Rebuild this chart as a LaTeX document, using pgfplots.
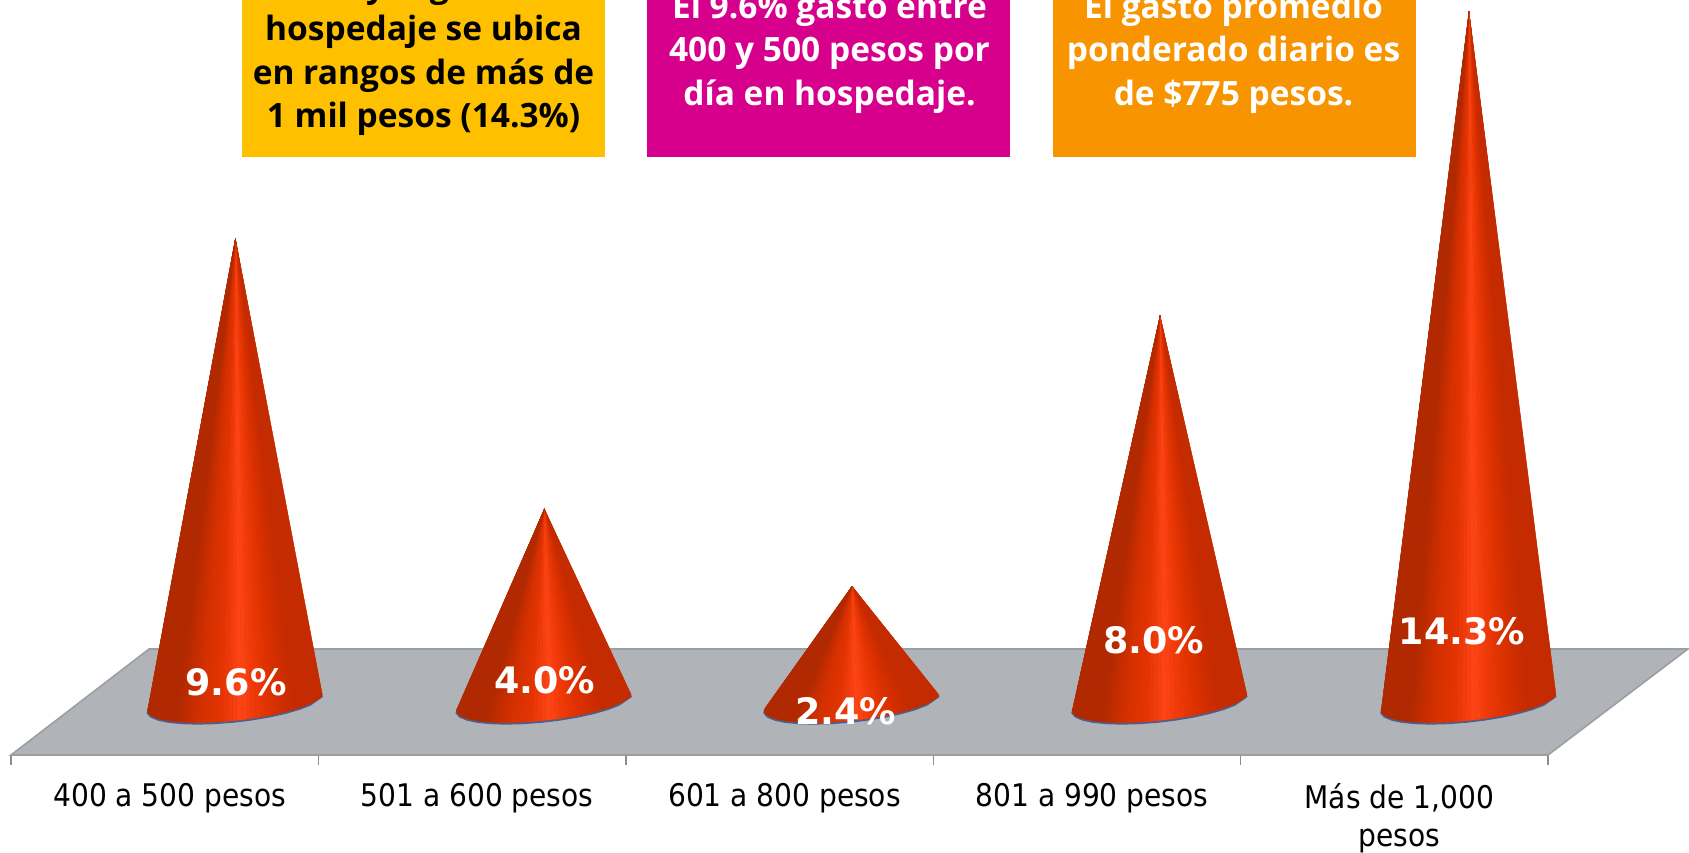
\documentclass[border=0pt]{standalone}
\usepackage{pgfplots}
\usepackage{pgfplotstable}
\usepackage{fontspec}
\usepgfplotslibrary{patchplots}
\pgfplotsset{compat=1.18}
\setmainfont{DejaVu Sans}
\newfontfamily\tickfont{DejaVu Sans Condensed}
\newfontfamily\boxfont{Open Sans}
\definecolor{floorc}{HTML}{B0B3B7}
\definecolor{flooredge}{HTML}{9C9EA2}
\definecolor{axisc}{HTML}{8A8C90}
\definecolor{rimc}{HTML}{4E5E8C}
\definecolor{boxy}{HTML}{FFC000}
\definecolor{boxm}{HTML}{D6008C}
\definecolor{boxo}{HTML}{F79400}
\definecolor{conemid}{HTML}{D63000}
% outline of one cone around its centre: row 0 is the apex (a=1), c is the place across its width
\pgfplotstableread{
dx dy a c
0.0000 0.0000 1 0.50
0.2830 0.1452 0 1.000
0.2774 0.1010 0 0.990
0.2687 0.0560 0 0.975
0.2571 0.0104 0 0.954
0.2426 -0.0351 0 0.929
0.2256 -0.0803 0 0.899
0.2060 -0.1245 0 0.864
0.1842 -0.1670 0 0.825
0.1723 -0.1874 0 0.804
0.1603 -0.2077 0 0.783
0.1476 -0.2269 0 0.760
0.1348 -0.2461 0 0.738
0.1213 -0.2638 0 0.714
0.1077 -0.2815 0 0.690
0.0936 -0.2977 0 0.665
0.0794 -0.3139 0 0.640
0.0649 -0.3282 0 0.615
0.0503 -0.3425 0 0.589
0.0355 -0.3550 0 0.562
0.0207 -0.3674 0 0.536
0.0058 -0.3778 0 0.510
-0.0092 -0.3882 0 0.484
-0.0241 -0.3964 0 0.457
-0.0390 -0.4046 0 0.431
-0.0537 -0.4105 0 0.405
-0.0684 -0.4164 0 0.379
-0.0827 -0.4199 0 0.354
-0.0970 -0.4234 0 0.329
-0.1108 -0.4247 0 0.305
-0.1246 -0.4259 0 0.280
-0.1377 -0.4247 0 0.257
-0.1507 -0.4234 0 0.234
-0.1630 -0.4199 0 0.212
-0.1753 -0.4164 0 0.190
-0.1867 -0.4105 0 0.170
-0.1980 -0.4046 0 0.150
-0.2082 -0.3964 0 0.132
-0.2184 -0.3882 0 0.114
-0.2364 -0.3674 0 0.082
-0.2519 -0.3427 0 0.055
-0.2646 -0.3139 0 0.033
-0.2744 -0.2815 0 0.015
-0.2813 -0.2461 0 0.003
-0.2849 -0.2079 0 0.000
-0.2855 -0.1670 0 0.000
-0.2830 -0.1245 0 0.000
}\conetab
\pgfplotstableread{
dx dy
0.2830 0.1452
0.2426 -0.0351
0.2060 -0.1245
0.1603 -0.2077
0.1077 -0.2815
0.0503 -0.3425
-0.0092 -0.3882
-0.0684 -0.4164
-0.1246 -0.4259
-0.1753 -0.4164
-0.2184 -0.3882
-0.2519 -0.3427
-0.2744 -0.2815
-0.2849 -0.2079
-0.2830 -0.1245
}\rimtab
\newcommand\cone[2]{%
 \addplot[rimc,line width=1.1pt,forget plot] table[x expr=\thisrow{dx}+#1,y expr=\thisrow{dy}-0.02]{\rimtab};
 \addplot[fill=conemid,draw=none,forget plot] table[x expr=\thisrow{dx}+#1,y expr=\thisrow{dy}+\thisrow{a}*#2]{\conetab} -- cycle;
 \addplot[patch,patch type=triangle,shader=flat,line width=0.1pt,forget plot,
   point meta=explicit,
   table/row sep=\\,
   patch table={1 2 0\\2 3 0\\3 4 0\\4 5 0\\5 6 0\\6 7 0\\7 8 0\\8 9 0\\9 10 0\\10 11 0\\11 12 0\\12 13 0\\13 14 0\\14 15 0\\15 16 0\\16 17 0\\17 18 0\\18 19 0\\19 20 0\\20 21 0\\21 22 0\\22 23 0\\23 24 0\\24 25 0\\25 26 0\\26 27 0\\27 28 0\\28 29 0\\29 30 0\\30 31 0\\31 32 0\\32 33 0\\33 34 0\\34 35 0\\35 36 0\\36 37 0\\37 38 0\\38 39 0\\39 40 0\\40 41 0\\41 42 0\\42 43 0\\43 44 0\\44 45 0\\45 46 0\\}]
   table[x expr=\thisrow{dx}+#1,y expr=\thisrow{dy}+\thisrow{a}*#2,meta=c]{\conetab};
}
\begin{document}
\begin{tikzpicture}
\path[use as bounding box] (-5.5pt,-48.5pt) rectangle (839pt,377.5pt);
\clip (-5.5pt,-48.5pt) rectangle (839pt,377.5pt);
\begin{axis}[
  scale only axis, width=768.5pt, height=377.5pt,
  xmin=0, xmax=5, ymin=-1.097, ymax=14.534,
  point meta min=0.16667, point meta max=0.83333,
  colormap={conered}{
    rgb255(0)=(112,28,0)
    rgb255(0.08)=(140,34,0)
    rgb255(0.18)=(182,42,0)
    rgb255(0.30)=(212,48,0)
    rgb255(0.42)=(228,52,4)
    rgb255(0.53)=(255,69,22)
    rgb255(0.60)=(240,58,8)
    rgb255(0.72)=(218,48,0)
    rgb255(0.86)=(192,42,0)
    rgb255(0.95)=(160,36,0)
    rgb255(1)=(125,30,0)
  },
  clip=false,
  axis x line*=bottom, hide y axis,
  axis line style={draw=axisc,line width=1pt},
  xtick={0,1,2,3,4,5},
  x tick label as interval,
  xticklabels={400 a 500 pesos,501 a 600 pesos,601 a 800 pesos,801 a 990 pesos,{Más de 1,000\\pesos}},
  x tick label style={font=\tickfont\fontsize{15.6}{18.8}\selectfont,align=center,text=black,xshift=2.5pt,yshift=-5.75pt},
  tick style={draw=axisc,line width=0.7pt},
  major tick length=5pt,
  tick align=outside,
  xtick pos=bottom,
]
\addplot[fill=floorc,draw=flooredge,line width=0.8pt,forget plot] coordinates {(0,-1.097) (0.449,1.097) (5.455,1.097) (5,-1.097)} -- cycle;
\cone{0.730}{9.6}
\cone{1.735}{4.0}
\cone{2.736}{2.4}
\cone{3.738}{8.0}
\cone{4.743}{14.3}
\node[text=white,font=\bfseries\fontsize{18.2}{20}\selectfont] at (axis cs:0.732,0.415) {9.6\%};
\node[text=white,font=\bfseries\fontsize{18.2}{20}\selectfont] at (axis cs:1.737,0.456) {4.0\%};
\node[text=white,font=\bfseries\fontsize{18.2}{20}\selectfont] at (axis cs:2.716,-0.187) {2.4\%};
\node[text=white,font=\bfseries\fontsize{18.2}{20}\selectfont] at (axis cs:3.718,1.286) {8.0\%};
\node[text=white,font=\bfseries\fontsize{18.2}{20}\selectfont] at (axis cs:4.720,1.473) {14.3\%};
\end{axis}
% callouts, 1 px = 0.5 pt, origin at axis left / axis line
\fill[boxy] (115.5pt,299pt) rectangle (297pt,400pt);
\fill[boxm] (318pt,299pt) rectangle (499.5pt,400pt);
\fill[boxo] (521pt,299pt) rectangle (702.5pt,400pt);
\node[align=center,text=black,font=\boxfont\bfseries\fontsize{16.75}{21.7}\selectfont] at (206.25pt,350.5pt) {El mayor gasto en\\hospedaje se ubica\\en rangos de más de\\1 mil pesos (14.3\%)};
\node[align=center,text=white,font=\boxfont\bfseries\fontsize{16.75}{21.7}\selectfont] at (409.25pt,351pt) {El 9.6\% gastó entre\\400 y 500 pesos por\\día en hospedaje.};
\node[align=center,text=white,font=\boxfont\bfseries\fontsize{16.75}{21.7}\selectfont] at (611.25pt,351pt) {El gasto promedio\\ponderado diario es\\de \$775 pesos.};
\end{tikzpicture}
\end{document}
